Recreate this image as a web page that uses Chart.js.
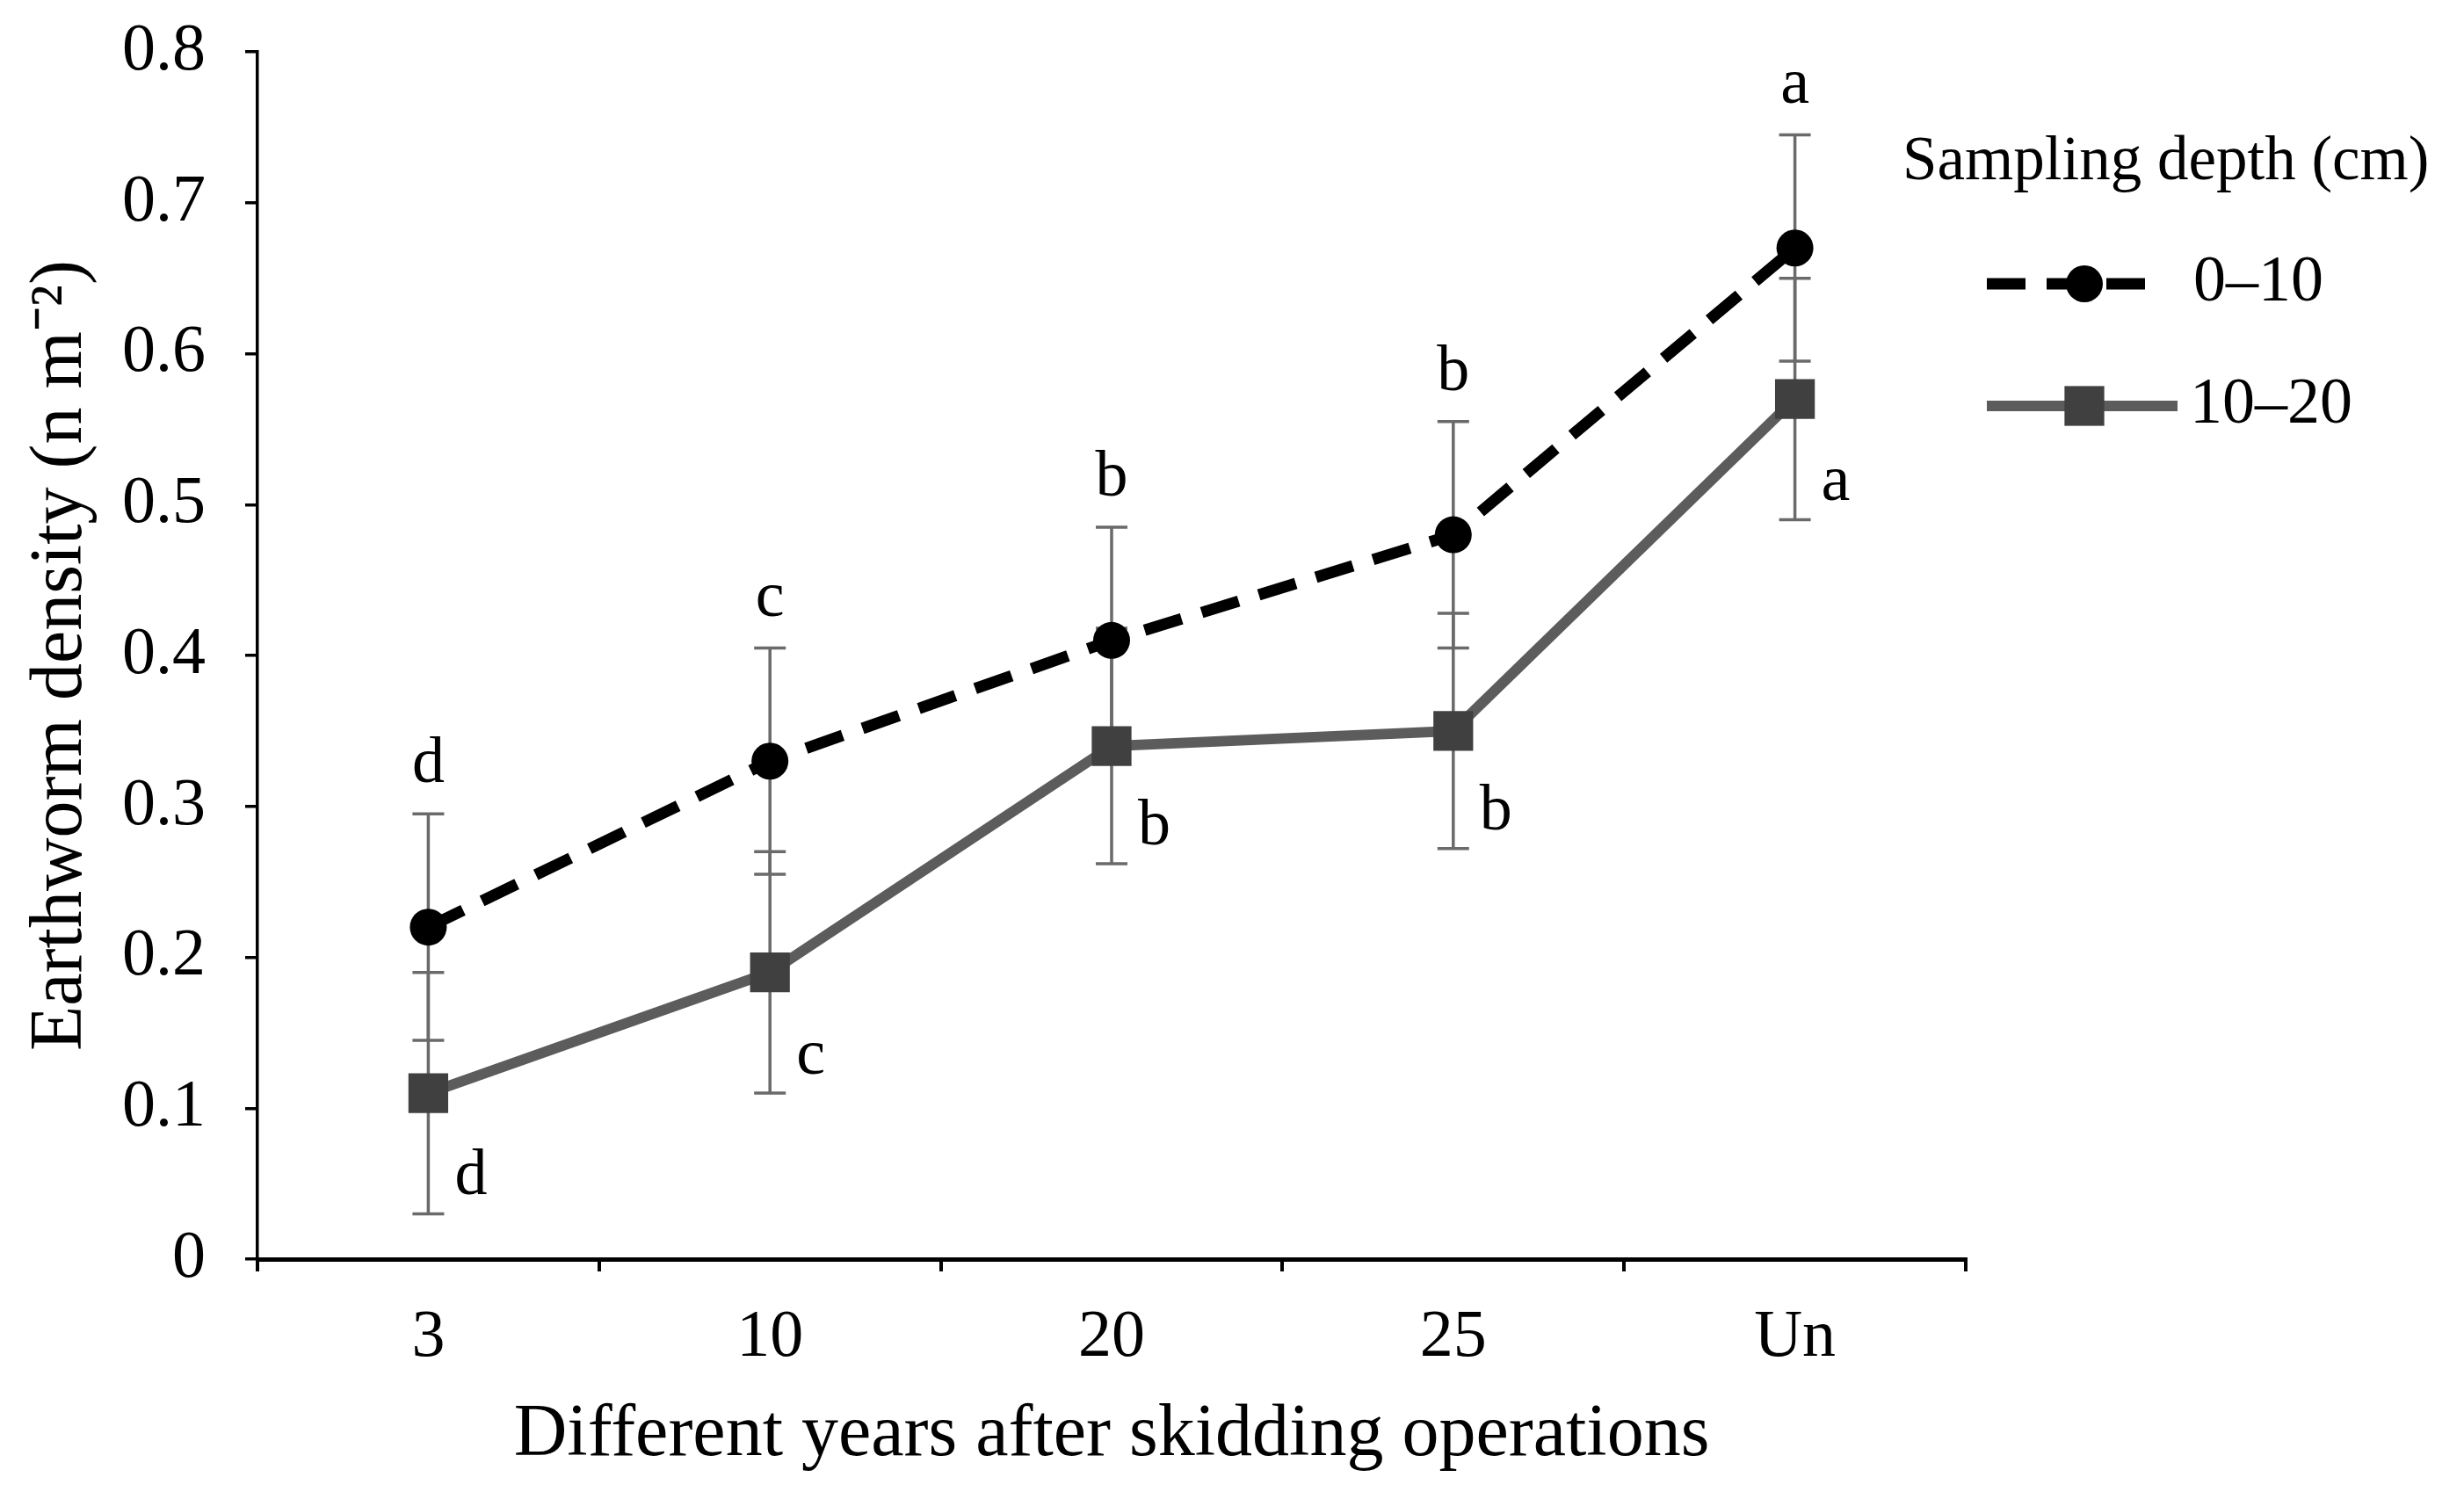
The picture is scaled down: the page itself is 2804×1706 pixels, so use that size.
<!DOCTYPE html>
<html>
<head>
<meta charset="utf-8">
<script src="https://cdn.jsdelivr.net/npm/chart.js@4"></script>
<style>
  html, body { margin: 0; padding: 0; background: #fff; }
  canvas { display: block; }
</style>
</head>
<body>
<canvas id="grafico" width="2804" height="1706"></canvas>
<script>
const categories = ["3", "10", "20", "25", "Un"];
const depth0to10 = [0.22, 0.33, 0.41, 0.48, 0.67];
const depth10to20 = [0.11, 0.19, 0.34, 0.35, 0.57];
const err0to10 = [0.075, 0.075, 0.075, 0.075, 0.075];
const err10to20 = [0.08, 0.08, 0.078, 0.078, 0.08];
const letters0to10 = ["d", "c", "b", "b", "a"];
const letters10to20 = ["d", "c", "b", "b", "a"];
const yTicks = [0, 0.1, 0.2, 0.3, 0.4, 0.5, 0.6, 0.7, 0.8];

const serif = '"Liberation Serif", "Times New Roman", serif';

// Barras de error (detras de las lineas)
const errorBars = {
  id: "errorBars",
  beforeDatasetsDraw(chart) {
    const { ctx, scales } = chart;
    const sets = [
      { values: depth0to10, errs: err0to10 },
      { values: depth10to20, errs: err10to20 },
    ];
    ctx.save();
    ctx.strokeStyle = "#6a6a6a";
    ctx.lineWidth = 3.5;
    sets.forEach((s) => {
      s.values.forEach((v, i) => {
        const x = scales.x.getPixelForValue(i);
        const top = scales.y.getPixelForValue(v + s.errs[i]);
        const bot = scales.y.getPixelForValue(v - s.errs[i]);
        ctx.beginPath();
        ctx.moveTo(x, top);
        ctx.lineTo(x, bot);
        ctx.moveTo(x - 18, top);
        ctx.lineTo(x + 18, top);
        ctx.moveTo(x - 18, bot);
        ctx.lineTo(x + 18, bot);
        ctx.stroke();
      });
    });
    ctx.restore();
  },
  afterDatasetsDraw(chart) {
    const { ctx, scales } = chart;
    ctx.save();
    ctx.fillStyle = "#000";
    ctx.font = "74px " + serif;
    ctx.textBaseline = "alphabetic";
    depth0to10.forEach((v, i) => {
      const x = scales.x.getPixelForValue(i);
      const top = scales.y.getPixelForValue(v + err0to10[i]);
      ctx.textAlign = "center";
      ctx.fillText(letters0to10[i], x, top - 36);
    });
    depth10to20.forEach((v, i) => {
      const x = scales.x.getPixelForValue(i);
      const bot = scales.y.getPixelForValue(v - err10to20[i]);
      ctx.textAlign = "left";
      ctx.fillText(letters10to20[i], x + 30, bot - 22);
    });
    ctx.restore();
  },
};

// Leyenda propia
const depthLegend = {
  id: "depthLegend",
  afterDraw(chart) {
    const { ctx } = chart;
    const ds = chart.data.datasets;
    ctx.save();
    ctx.fillStyle = "#000";
    ctx.textBaseline = "middle";
    ctx.textAlign = "left";
    ctx.font = "71px " + serif;
    ctx.fillText("Sampling depth (cm)", 2165, 185);

    // 0-10
    ctx.strokeStyle = ds[0].borderColor;
    ctx.lineWidth = ds[0].borderWidth;
    ctx.setLineDash(ds[0].borderDash);
    ctx.beginPath();
    ctx.moveTo(2261, 323);
    ctx.lineTo(2453, 323);
    ctx.stroke();
    ctx.setLineDash([]);
    ctx.fillStyle = ds[0].pointBackgroundColor;
    ctx.beginPath();
    ctx.arc(2372, 323, ds[0].pointRadius, 0, Math.PI * 2);
    ctx.fill();

    // 10-20
    ctx.strokeStyle = ds[1].borderColor;
    ctx.lineWidth = ds[1].borderWidth;
    ctx.beginPath();
    ctx.moveTo(2261, 462);
    ctx.lineTo(2478, 462);
    ctx.stroke();
    ctx.fillStyle = ds[1].pointBackgroundColor;
    const side = ds[1].pointRadius * Math.SQRT2;
    ctx.fillRect(2372 - side / 2, 462 - side / 2, side, side);

    ctx.fillStyle = "#000";
    ctx.font = "74px " + serif;
    ctx.fillText(ds[0].label, 2496, 323);
    ctx.fillText(ds[1].label, 2492, 462);
    ctx.restore();
  },
};

const ctxGrafico = document.getElementById("grafico").getContext("2d");
new Chart(ctxGrafico, {
  type: "line",
  data: {
    labels: categories,
    datasets: [
      {
        label: "0\u201310",
        data: depth0to10,
        borderColor: "#000000",
        borderWidth: 13,
        borderDash: [44, 24],
        pointStyle: "circle",
        pointRadius: 21,
        pointBackgroundColor: "#000000",
        pointBorderWidth: 0,
        tension: 0,
      },
      {
        label: "10\u201320",
        data: depth10to20,
        borderColor: "#5c5c5c",
        borderWidth: 12,
        borderDash: [],
        pointStyle: "rect",
        pointRadius: 32,
        pointBackgroundColor: "#404040",
        pointBorderWidth: 0,
        tension: 0,
      },
    ],
  },
  options: {
    responsive: false,
    devicePixelRatio: 1,
    animation: false,
    layout: { autoPadding: false, padding: { top: 59, right: 567, left: 0, bottom: 0 } },
    plugins: {
      legend: { display: false },
      tooltip: { enabled: false },
    },
    scales: {
      x: {
        type: "category",
        offset: true,
        grid: {
          offset: true,
          drawOnChartArea: false,
          drawTicks: true,
          tickLength: 14,
          tickColor: "#000",
          lineWidth: 4,
        },
        border: { display: true, color: "#000", width: 5 },
        ticks: {
          color: "#000",
          font: { family: serif, size: 76 },
          padding: 30,
          maxRotation: 0,
        },
        title: {
          display: true,
          text: "Different years after skidding operations",
          color: "#000",
          font: { family: serif, size: 84 },
          padding: { top: 0, bottom: 22 },
        },
        afterFit(scale) {
          scale.height = 273;
          scale.paddingLeft = 0;
          scale.paddingRight = 0;
        },
      },
      y: {
        min: 0,
        max: 0.8,
        afterBuildTicks(scale) {
          scale.ticks = yTicks.map((v) => ({ value: v }));
        },
        grid: {
          drawOnChartArea: false,
          drawTicks: true,
          tickLength: 14,
          tickColor: "#000",
          lineWidth: 3.5,
        },
        border: { display: true, color: "#000", width: 3.5 },
        ticks: {
          color: "#000",
          font: { family: serif, size: 76 },
          padding: 45,
          callback: (v) => (v === 0 ? "0" : Number(v).toFixed(1)),
        },
        title: {
          display: true,
          text: "Earthworm density (n m\u207B\u00B2)",
          color: "#000",
          font: { family: serif, size: 84 },
          padding: { top: 20, bottom: 0 },
        },
        afterFit(scale) {
          scale.width = 293;
          scale.paddingTop = 0;
          scale.paddingBottom = 0;
        },
      },
    },
  },
  plugins: [errorBars, depthLegend],
});
</script>
</body>
</html>
